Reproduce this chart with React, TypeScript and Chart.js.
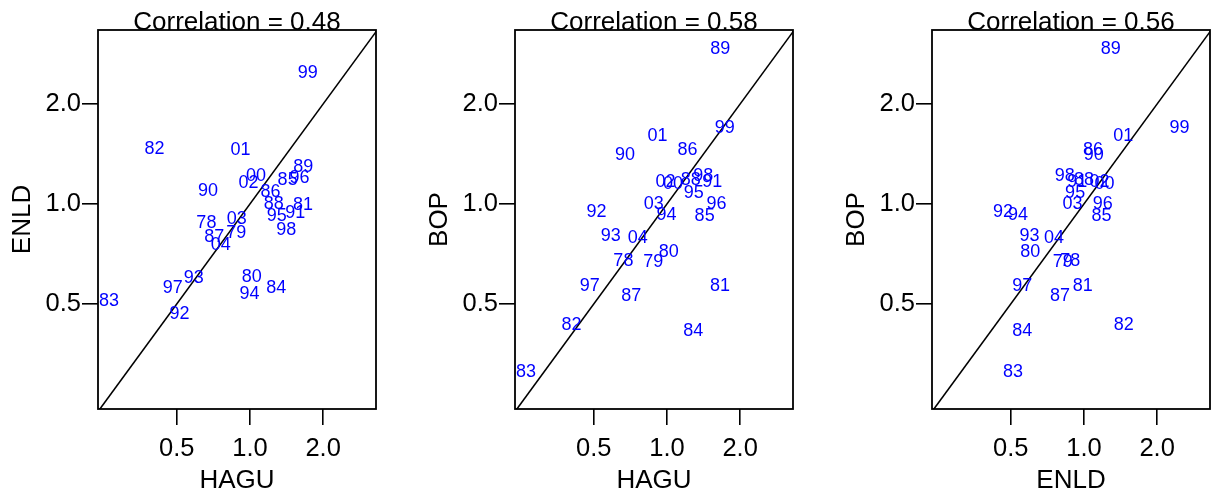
import React, { useEffect, useRef } from "react";
import { Chart, registerables } from "chart.js";

Chart.register(...registerables);

// ---- data ----
const YEARS = ["78", "79", "80", "81", "82", "83", "84", "85", "86", "87", "88", "89", "90", "91", "92", "93", "94", "95", "96", "97", "98", "99", "00", "01", "02", "03", "04"];
const HAGU = [0.662, 0.878, 1.017, 1.652, 0.405, 0.263, 1.283, 1.429, 1.214, 0.713, 1.253, 1.658, 0.673, 1.537, 0.513, 0.588, 0.997, 1.289, 1.599, 0.482, 1.41, 1.729, 1.059, 0.914, 0.986, 0.883, 0.758];
const ENLD = [0.878, 0.818, 0.601, 0.99, 1.459, 0.511, 0.558, 1.181, 1.09, 0.798, 1.0, 1.29, 1.097, 0.939, 0.465, 0.597, 0.536, 0.92, 1.194, 0.558, 0.833, 2.471, 1.214, 1.45, 1.159, 0.898, 0.754];
const BOP = [0.675, 0.668, 0.718, 0.566, 0.432, 0.311, 0.416, 0.92, 1.454, 0.529, 1.181, 2.922, 1.404, 1.167, 0.949, 0.803, 0.927, 1.079, 1.0, 0.566, 1.212, 1.696, 1.149, 1.602, 1.167, 1.0, 0.788];
const CORRELATIONS = ["0.48", "0.58", "0.56"];
const TICK_VALUES = [0.5, 1, 2];
const X_RANGE = [0.2372, 3.3];
const Y_RANGE = [0.2415, 3.34];

const PANELS = [
  { xs: HAGU, ys: ENLD, xName: "HAGU", yName: "ENLD", corr: CORRELATIONS[0], left: 0 },
  { xs: HAGU, ys: BOP, xName: "HAGU", yName: "BOP", corr: CORRELATIONS[1], left: 417 },
  { xs: ENLD, ys: BOP, xName: "ENLD", yName: "BOP", corr: CORRELATIONS[2], left: 834 },
];

const FONT = '"Liberation Sans", Arial, Helvetica, sans-serif';

const panelPlugin = {
  id: "panelDecor",
  afterDatasetsDraw(chart: any, _args: any, opts: any) {
    const ctx = chart.ctx;
    const meta = chart.getDatasetMeta(1);
    ctx.save();
    ctx.font = `18px ${FONT}`;
    ctx.fillStyle = "#0000ff";
    ctx.textAlign = "center";
    ctx.textBaseline = "middle";
    meta.data.forEach((el: any, i: number) => {
      ctx.fillText(YEARS[i], el.x, el.y);
    });
    const { left, top, right, bottom } = chart.chartArea;
    ctx.strokeStyle = "#000";
    ctx.lineWidth = 1.8;
    ctx.strokeRect(left, top, right - left, bottom - top);
    ctx.fillStyle = "#000";
    ctx.font = `26px ${FONT}`;
    ctx.textBaseline = "alphabetic";
    ctx.fillText(opts.title, (left + right) / 2, top - 0.5);
    ctx.restore();
  },
};

function axis(range: number[], name: string, isX: boolean) {
  return {
    type: "logarithmic",
    min: range[0],
    max: range[1],
    afterBuildTicks: (s: any) => {
      s.ticks = TICK_VALUES.map((v) => ({ value: v }));
    },
    ticks: {
      callback: (v: any) => Number(v).toFixed(1),
      font: { family: FONT, size: 25.5 },
      color: "#000",
      padding: isX ? 9 : 1,
      maxRotation: 0,
      autoSkip: false,
    },
    grid: {
      drawOnChartArea: false,
      drawTicks: true,
      tickLength: 16,
      color: "#000",
      lineWidth: 1.6,
    },
    border: { display: false },
    title: {
      display: true,
      text: name,
      color: "#000",
      font: { family: FONT, size: 26, lineHeight: 1 },
      padding: isX ? { top: 0, bottom: 1 } : { top: 10, bottom: 0 },
    },
    afterFit: (s: any) => {
      if (isX) s.height = 86;
      else s.width = 98;
    },
  };
}

function Panel({ p }: { p: (typeof PANELS)[number] }) {
  const ref = useRef<HTMLCanvasElement | null>(null);
  useEffect(() => {
    if (!ref.current) return;
    const lo = Math.min(X_RANGE[0], Y_RANGE[0]);
    const hi = Math.max(X_RANGE[1], Y_RANGE[1]);
    const chart = new Chart(ref.current, {
      type: "scatter",
      data: {
        datasets: [
          {
            data: [
              { x: lo, y: lo },
              { x: hi, y: hi },
            ],
            showLine: true,
            borderColor: "#000",
            borderWidth: 1.6,
            pointRadius: 0,
          },
          {
            data: p.xs.map((v, i) => ({ x: v, y: p.ys[i] })),
            pointRadius: 0,
            showLine: false,
          },
        ],
      },
      options: {
        responsive: false,
        animation: false,
        devicePixelRatio: 1,
        layout: { padding: { top: 30, right: 2, bottom: 0, left: 0 } },
        plugins: {
          legend: { display: false },
          tooltip: { enabled: false },
          panelDecor: { title: `Correlation = ${p.corr}` },
        } as any,
        scales: {
          x: axis(X_RANGE, p.xName, true) as any,
          y: axis(Y_RANGE, p.yName, false) as any,
        },
      },
      plugins: [panelPlugin as any],
    });
    return () => chart.destroy();
  }, [p]);
  return (
    <canvas
      ref={ref}
      width={378}
      height={495}
      style={{ position: "absolute", left: p.left, top: 0, width: 378, height: 495 }}
    />
  );
}

export default function App() {
  return (
    <div
      style={{
        position: "absolute",
        left: 0,
        top: 0,
        width: 1211,
        height: 495,
        overflow: "hidden",
        background: "#fff",
      }}
    >
      {PANELS.map((p) => (
        <Panel key={p.left} p={p} />
      ))}
    </div>
  );
}
